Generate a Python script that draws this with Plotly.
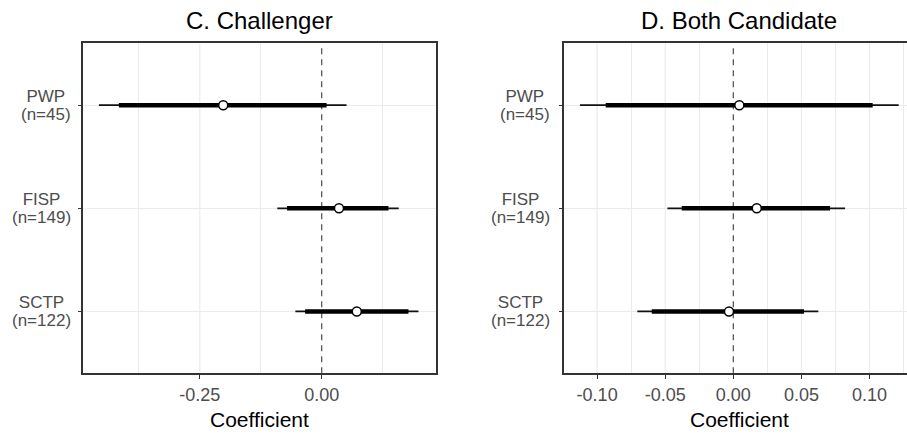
import plotly.graph_objects as go

# ---- data -------------------------------------------------------------
categories = ["PWP", "FISP", "SCTP"]
sample_sizes = [45, 149, 122]

# C. Challenger: point estimate, 95% and 90% intervals
chal_est = [-0.202, 0.0355, 0.072]
chal_lo95 = [-0.457, -0.091, -0.054]
chal_hi95 = [0.051, 0.158, 0.1985]
chal_lo90 = [-0.416, -0.071, -0.034]
chal_hi90 = [0.010, 0.137, 0.178]

# D. Both Candidate: point estimate, 95% and 90% intervals
both_est = [0.0044, 0.0172, -0.0032]
both_lo95 = [-0.1126, -0.0484, -0.0705]
both_hi95 = [0.1214, 0.082, 0.0624]
both_lo90 = [-0.0937, -0.0379, -0.0599]
both_hi90 = [0.1023, 0.071, 0.0519]

chal_ticks = [-0.25, 0.0]
chal_ticktext = ["-0.25", "0.00"]
chal_minor = [-0.375, -0.125, 0.125]

both_ticks = [-0.10, -0.05, 0.0, 0.05, 0.10]
both_ticktext = ["-0.10", "-0.05", "0.00", "0.05", "0.10"]
both_minor = [-0.075, -0.025, 0.025, 0.075, 0.125]

# ---- styling ----------------------------------------------------------
FONT = "Liberation Sans, Arial, sans-serif"
W, H = 907, 434
AXIS_GREY = "#333333"
TEXT_GREY = "#4D4D4D"
GRID = "#EBEBEB"

# bottom-to-top order of the category axis
cat_order = categories[::-1]

panels = [
    dict(title="C. Challenger", est=chal_est, lo95=chal_lo95, hi95=chal_hi95,
         lo90=chal_lo90, hi90=chal_hi90, xa="x", ya="y",
         domain=[83.3 / W, 436 / W], xrange=[-0.489, 0.2345],
         ticks=chal_ticks, ticktext=chal_ticktext, minor=chal_minor,
         mirror_y=True, label_x=72.7, center=259.5),
    dict(title="D. Both Candidate", est=both_est, lo95=both_lo95, hi95=both_hi95,
         lo90=both_lo90, hi90=both_hi90, xa="x2", ya="y2",
         domain=[564.3 / W, 1.0], xrange=[-0.1241, 0.1275],
         ticks=both_ticks, ticktext=both_ticktext, minor=both_minor,
         mirror_y=False, label_x=551.5, center=739.0),
]

y_domain = [(H - 373.3) / H, (H - 43.3) / H]

fig = go.Figure()
annotations = []
shapes = []


def segments(lo, hi, cats):
    xs, ys = [], []
    for a, b, c in zip(lo, hi, cats):
        xs += [a, b, None]
        ys += [c, c, None]
    return xs, ys


for p in panels:
    # 95% interval (thin)
    xs, ys = segments(p["lo95"], p["hi95"], categories)
    fig.add_trace(go.Scatter(x=xs, y=ys, mode="lines", xaxis=p["xa"], yaxis=p["ya"],
                             line=dict(color="#111111", width=1.8),
                             hoverinfo="skip", showlegend=False))
    # 90% interval (thick)
    xs, ys = segments(p["lo90"], p["hi90"], categories)
    fig.add_trace(go.Scatter(x=xs, y=ys, mode="lines", xaxis=p["xa"], yaxis=p["ya"],
                             line=dict(color="black", width=4.4),
                             hoverinfo="skip", showlegend=False))
    # point estimates
    fig.add_trace(go.Scatter(x=p["est"], y=categories, mode="markers",
                             xaxis=p["xa"], yaxis=p["ya"],
                             marker=dict(symbol="circle", size=9, color="white",
                                         line=dict(color="black", width=1.5)),
                             showlegend=False))

    # vertical major grid lines (drawn as shapes so the zero line sits on top)
    for v in p["ticks"]:
        if v == 0:
            continue
        shapes.append(dict(type="line", xref=p["xa"], yref=p["ya"] + " domain",
                           x0=v, x1=v, y0=0, y1=1, layer="below",
                           line=dict(color=GRID, width=1.2)))
    # zero reference line
    shapes.append(dict(type="line", xref=p["xa"], yref=p["ya"] + " domain",
                       x0=0, x1=0, y0=0, y1=1, layer="below",
                       line=dict(color="#5A5A5A", width=1.3, dash="6px,5px")))

    # panel title
    annotations.append(dict(text=p["title"], xref="paper", yref="paper",
                            x=p["center"] / W, y=(H - 20) / H,
                            xanchor="center", yanchor="middle", showarrow=False,
                            font=dict(family=FONT, size=24, color="black")))
    # x-axis title
    annotations.append(dict(text="Coefficient", xref="paper", yref="paper",
                            x=p["center"] / W, y=(H - 419) / H,
                            xanchor="center", yanchor="middle", showarrow=False,
                            font=dict(family=FONT, size=21, color="black")))
    # category labels with sample sizes (tight two-line block)
    for name, n in zip(categories, sample_sizes):
        txt = (f"<span style='font-size:17px'>{name}</span><br>"
               f"<span style='font-size:17px'>(n={n})</span>")
        annotations.append(dict(text=txt, xref="paper", yref=p["ya"],
                                x=p["label_x"] / W, y=cat_order.index(name),
                                xanchor="right", yanchor="middle", align="center",
                                showarrow=False,
                                font=dict(family=FONT, size=13.5, color=TEXT_GREY)))

axis_common = dict(showline=True, linecolor=AXIS_GREY, linewidth=1.6,
                   ticks="outside", ticklen=4, tickcolor=AXIS_GREY, tickwidth=1.2,
                   zeroline=False, gridcolor=GRID, gridwidth=1.2)

layout = dict(
    width=W, height=H,
    margin=dict(l=0, r=0, t=0, b=0),
    paper_bgcolor="white", plot_bgcolor="white",
    font=dict(family=FONT, color=TEXT_GREY),
    showlegend=False,
    annotations=annotations,
    shapes=shapes,
)

for i, p in enumerate(panels):
    suffix = "" if i == 0 else str(i + 1)
    layout["xaxis" + suffix] = dict(
        axis_common, domain=p["domain"], range=p["xrange"], anchor=p["ya"],
        mirror=True, showgrid=False,
        tickmode="array", tickvals=p["ticks"], ticktext=p["ticktext"],
        tickfont=dict(family=FONT, size=18, color=TEXT_GREY),
        minor=dict(tickmode="array", tickvals=p["minor"], showgrid=True,
                   gridcolor=GRID, gridwidth=0.9, ticks=""),
    )
    layout["yaxis" + suffix] = dict(
        axis_common, domain=y_domain, anchor=p["xa"], type="category",
        categoryorder="array", categoryarray=cat_order, range=[-0.6, 2.6],
        mirror=p["mirror_y"], showgrid=True, showticklabels=False,
    )

fig.update_layout(**layout)
fig.write_html("out.html")
